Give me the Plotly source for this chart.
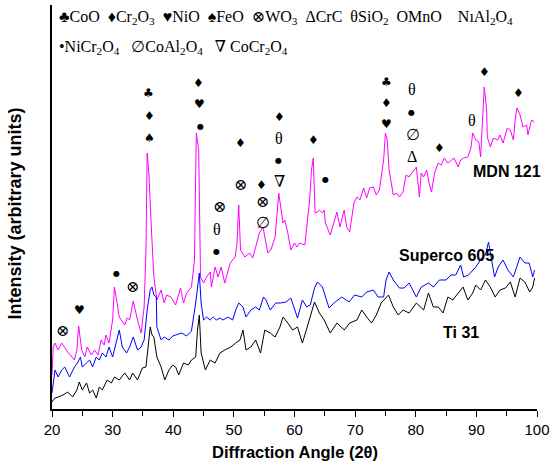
import plotly.graph_objects as go

# ---------------- data ----------------
mdn_angle = [20.0, 20.2, 20.5, 21.0, 21.6, 22.6, 23.7, 24.1, 24.4, 24.9, 25.4, 25.8, 26.5, 27.0, 27.6, 28.1,
             28.6, 28.9, 29.4, 30.0, 30.3, 30.8, 31.1, 32.0, 32.4, 32.8, 33.4, 34.1, 34.7, 35.2, 35.5, 35.7,
             36.0, 36.3, 36.8, 37.3, 37.6, 38.0, 38.5, 38.9, 39.6, 40.1, 40.4, 41.2, 41.7, 42.2, 43.0, 43.5,
             43.8, 44.2, 44.3, 44.5, 45.0, 45.5, 46.1, 46.3, 46.9, 47.4, 47.9, 48.5, 49.4, 50.2, 50.5, 50.8,
             51.1, 51.8, 52.6, 53.1, 53.6, 54.2, 54.8, 55.1, 55.3, 55.6, 56.1, 56.8, 57.4, 58.1, 58.4, 58.9,
             59.4, 60.0, 60.4, 60.8, 61.7, 62.1, 62.5, 62.8, 63.1, 63.4, 63.8, 64.1, 64.6, 64.9, 65.1, 65.9,
             66.5, 67.0, 67.5, 68.2, 68.6, 69.1, 69.8, 70.3, 70.8, 71.4, 71.9, 72.4, 73.0, 73.5, 74.0, 74.7,
             75.0, 75.3, 75.6, 76.3, 76.8, 77.3, 77.9, 78.4, 78.9, 79.5, 80.1, 80.6, 80.9, 81.3, 81.8, 82.2,
             82.6, 83.1, 83.7, 84.2, 84.7, 85.3, 85.8, 86.3, 87.0, 87.4, 87.9, 88.6, 89.1, 89.4, 89.9, 90.4,
             90.7, 91.0, 91.3, 91.7, 91.8, 92.3, 92.8, 93.5, 93.9, 94.4, 95.1, 95.6, 96.1, 96.4, 96.7, 97.2,
             97.7, 98.3, 98.5, 99.1, 99.6]
mdn_int = [30, 58, 62, 55, 62, 53, 45, 55, 79, 55, 48, 58, 50, 55, 50, 65,
           60, 70, 62, 85, 118, 100, 88, 80, 87, 85, 104, 85, 72, 98, 155, 252,
           230, 188, 128, 105, 110, 115, 102, 110, 108, 102, 100, 117, 102, 112, 118, 145,
           272, 255, 215, 128, 122, 128, 133, 118, 138, 128, 138, 122, 142, 148, 160, 200,
           155, 148, 152, 147, 158, 172, 178, 168, 158, 152, 155, 168, 212, 182, 185, 172,
           155, 162, 158, 162, 160, 180, 205, 235, 247, 192, 193, 195, 192, 195, 182, 170,
           182, 193, 178, 195, 178, 173, 202, 208, 205, 217, 207, 217, 218, 210, 215, 245,
           272, 265, 235, 210, 212, 208, 213, 230, 228, 233, 238, 208, 232, 228, 235, 222,
           213, 232, 242, 240, 247, 242, 245, 247, 238, 245, 247, 248, 257, 272, 265, 263,
           248, 278, 318, 295, 268, 258, 267, 265, 270, 262, 277, 275, 265, 285, 297, 290,
           278, 280, 270, 285, 283]

sup_angle = [20.0, 20.5, 21.0, 21.6, 22.1, 22.9, 23.7, 24.2, 24.7, 25.0, 25.7, 26.2, 26.7, 27.3, 27.8, 28.3,
             28.9, 29.4, 30.0, 30.7, 31.1, 31.6, 32.3, 32.8, 33.4, 34.1, 34.7, 35.2, 35.7, 36.2, 36.5, 36.8,
             37.2, 37.3, 38.0, 38.5, 39.3, 39.9, 40.4, 41.4, 42.2, 43.0, 43.7, 44.2, 44.3, 44.6, 45.0, 45.5,
             46.1, 46.6, 47.1, 47.7, 48.2, 49.0, 49.8, 50.3, 50.8, 51.5, 52.0, 52.8, 53.6, 54.2, 54.9, 55.3,
             56.0, 56.4, 56.9, 57.7, 58.6, 59.4, 60.0, 60.5, 61.3, 62.0, 62.6, 63.3, 63.8, 64.6, 65.7, 66.7,
             67.8, 69.0, 69.9, 71.1, 71.9, 73.0, 73.8, 74.7, 75.1, 75.6, 76.3, 77.3, 78.1, 78.9, 80.1, 80.9,
             82.1, 82.9, 83.9, 85.0, 85.8, 86.6, 87.4, 87.9, 88.7, 89.9, 91.0, 91.5, 92.0, 92.5, 93.0, 93.6,
             94.4, 95.2, 96.1, 97.2, 98.0, 98.7, 99.3, 99.6]
sup_int = [12, 35, 28, 35, 38, 28, 38, 42, 48, 38, 42, 45, 38, 48, 45, 52,
           48, 58, 48, 65, 75, 58, 52, 58, 68, 55, 58, 65, 95, 115, 118, 110,
           108, 78, 65, 68, 65, 69, 70, 72, 69, 74, 102, 130, 132, 102, 85, 88,
           85, 88, 85, 87, 85, 88, 85, 95, 102, 98, 88, 95, 98, 95, 108, 105,
           95, 98, 102, 102, 103, 107, 95, 87, 105, 98, 100, 117, 123, 118, 97, 103,
           108, 103, 110, 108, 113, 115, 108, 108, 125, 133, 125, 117, 117, 122, 108, 118,
           122, 118, 125, 125, 130, 130, 140, 128, 130, 138, 148, 150, 163, 145, 128, 138,
           145, 135, 128, 148, 142, 142, 128, 135]

ti_angle = [20.0, 20.5, 21.0, 21.8, 22.6, 23.4, 24.1, 24.5, 25.0, 25.7, 26.2, 26.7, 27.3, 27.8, 28.3, 29.1,
            29.8, 30.3, 31.1, 32.0, 32.8, 33.3, 34.1, 34.9, 35.5, 35.9, 36.2, 36.5, 36.8, 37.3, 38.0, 38.6,
            39.3, 39.9, 40.4, 40.9, 41.7, 42.5, 43.0, 43.7, 44.0, 44.3, 44.6, 45.3, 46.1, 46.9, 47.7, 48.5,
            49.5, 50.3, 51.0, 51.5, 52.0, 52.8, 53.6, 54.4, 55.1, 56.0, 56.8, 57.6, 58.1, 58.9, 59.7, 60.5,
            61.3, 62.1, 63.3, 64.1, 64.9, 65.9, 67.0, 68.2, 69.1, 70.3, 71.1, 71.9, 72.7, 73.5, 74.3, 75.5,
            76.3, 77.1, 77.9, 78.9, 80.1, 81.3, 82.1, 82.9, 83.7, 84.5, 85.3, 86.1, 87.0, 87.8, 88.6, 89.4,
            89.9, 90.7, 91.5, 92.3, 93.1, 93.9, 94.8, 95.6, 96.4, 97.2, 98.0, 98.8, 99.3, 99.6]
ti_int = [3, 7, 8, 10, 13, 8, 15, 23, 15, 22, 12, 15, 7, 18, 15, 25,
          22, 28, 25, 32, 25, 32, 25, 37, 38, 60, 78, 70, 68, 48, 38, 25,
          35, 40, 38, 30, 42, 40, 45, 48, 75, 90, 52, 35, 45, 42, 52, 55,
          58, 62, 65, 75, 55, 58, 65, 52, 75, 72, 68, 78, 88, 82, 75, 78,
          62, 78, 103, 92, 85, 72, 82, 75, 82, 85, 95, 88, 82, 90, 102, 110,
          98, 90, 95, 92, 102, 95, 112, 98, 98, 92, 108, 105, 112, 118, 105, 112,
          120, 115, 125, 118, 108, 115, 117, 123, 108, 127, 123, 113, 118, 127]

# peak identification symbols
peak_text = ["⊗", "♥", "●", "⊗", "♣", "♦", "♠", "♦", "♥", "●",
             "⊗", "θ", "●", "♦", "⊗", "♦", "⊗", "∅", "♦", "θ",
             "●", "∇", "♦", "●", "♣", "♦", "♥", "θ", "●", "∅",
             "Δ", "♦", "θ", "♦", "♦"]
peak_angle = [21.8, 24.5, 30.7, 33.3, 35.9, 36.0, 36.0, 44.15, 44.3, 44.5,
              47.57, 47.24, 47.08, 51.14, 51.14, 54.56, 54.72, 54.88, 57.59, 57.42,
              57.42, 57.59, 63.11, 65.07, 75.15, 75.15, 75.15, 79.37, 79.37, 79.54,
              79.37, 83.87, 89.23, 91.34, 96.87]
peak_int = [75, 95, 132, 119, 312, 289, 267, 322, 301, 279,
            199, 176, 154, 262, 221, 220, 204, 183, 288, 267,
            245, 224, 265, 226, 323, 302, 281, 316, 293, 271,
            249, 257, 285, 333, 312]

legend_line1 = ("♣CoO  ♦Cr<sub>2</sub>O<sub>3</sub>  ♥NiO  ♠FeO  ⊗WO<sub>3</sub>  ΔCrC  "
                "θSiO<sub>2</sub>  OMnO    NıAl<sub>2</sub>O<sub>4</sub>")
legend_line2 = "•NiCr<sub>2</sub>O<sub>4</sub>   ∅CoAl<sub>2</sub>O<sub>4</sub>   ∇ CoCr<sub>2</sub>O<sub>4</sub>"

series_names = ["MDN 121", "Superco 605", "Ti 31"]
series_label_angle = [95.1, 85.0, 87.4]
series_label_int = [234, 150, 73]

x_ticks = [20, 30, 40, 50, 60, 70, 80, 90, 100]

# ---------------- figure ----------------
fig = go.Figure()
fig.add_trace(go.Scatter(x=mdn_angle, y=mdn_int, mode="lines",
                         line=dict(color="#FF00FF", width=1), name=series_names[0]))
fig.add_trace(go.Scatter(x=sup_angle, y=sup_int, mode="lines",
                         line=dict(color="#0000FF", width=1), name=series_names[1]))
fig.add_trace(go.Scatter(x=ti_angle, y=ti_int, mode="lines",
                         line=dict(color="#000000", width=1), name=series_names[2]))

annotations = []
solid = {"♣", "♦", "♥", "♠"}
for t, a, v in zip(peak_text, peak_angle, peak_int):
    if t in solid:
        font = dict(family="DejaVu Sans", size=12, color="black")
    elif t == "●":
        font = dict(family="DejaVu Sans", size=8, color="black")
    else:
        font = dict(family="Liberation Serif, DejaVu Serif", size=16, color="black")
    annotations.append(dict(x=a, y=v, xref="x", yref="y", text=t, showarrow=False,
                            font=font, xanchor="center", yanchor="middle"))

for n, a, v in zip(series_names, series_label_angle, series_label_int):
    annotations.append(dict(x=a, y=v, xref="x", yref="y", text="<b>" + n + "</b>",
                            showarrow=False, xanchor="center", yanchor="middle",
                            font=dict(family="Liberation Sans, Arial", size=16, color="black")))

annotations.append(dict(x=20.8, y=388, xref="x", yref="y", text=legend_line1, showarrow=False,
                        xanchor="left", yanchor="middle",
                        font=dict(family="Liberation Serif, DejaVu Serif", size=16, color="black")))
annotations.append(dict(x=20.8, y=358, xref="x", yref="y", text=legend_line2, showarrow=False,
                        xanchor="left", yanchor="middle",
                        font=dict(family="Liberation Serif, DejaVu Serif", size=16, color="black")))

annotations.append(dict(x=-0.0755, y=0.485, xref="paper", yref="paper",
                        text="<b>Intensity (arbitrary units)</b>", textangle=-90, showarrow=False,
                        xanchor="center", yanchor="middle",
                        font=dict(family="Liberation Sans, Arial", size=18, color="black")))
annotations.append(dict(x=0.5, y=-0.106, xref="paper", yref="paper",
                        text="<b>Diffraction Angle (2θ)</b>", showarrow=False,
                        xanchor="center", yanchor="middle",
                        font=dict(family="Liberation Sans, Arial", size=16.5, color="black")))

fig.update_layout(
    width=555, height=468,
    margin=dict(l=52, r=13, t=5, b=59),
    paper_bgcolor="white", plot_bgcolor="white",
    showlegend=False,
    annotations=annotations,
    xaxis=dict(range=[20, 100], tickmode="array", tickvals=x_ticks,
               ticks="outside", ticklen=6, tickwidth=1.2, tickcolor="black",
               minor=dict(dtick=5, tick0=20, ticks="outside", ticklen=5, tickcolor="black", tickwidth=1.2),
               showline=True, linecolor="black", linewidth=1.5, showgrid=False, zeroline=False,
               tickfont=dict(family="Liberation Sans, Arial", size=15, color="black")),
    yaxis=dict(range=[-4, 400], showline=True, linecolor="black", linewidth=1.5,
               showticklabels=False, ticks="", showgrid=False, zeroline=False),
)

fig.write_html("out.html", config={"displayModeBar": False},
               post_script="document.body.style.margin='0px';document.body.style.overflow='hidden';")
